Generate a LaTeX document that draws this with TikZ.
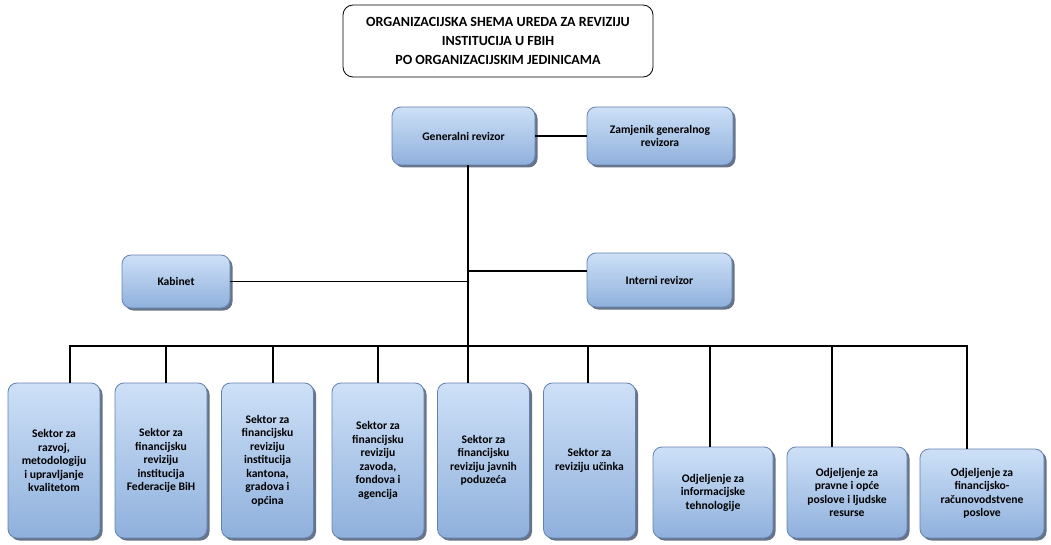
\documentclass[tikz,border=0pt]{standalone}
\usepackage{fontspec}
\setmainfont{Carlito}
\usetikzlibrary{shadows}
\definecolor{boxtop}{RGB}{205,224,247}
\definecolor{boxbot}{RGB}{143,176,220}
\definecolor{boxline}{RGB}{100,130,175}
\definecolor{shadowc}{RGB}{65,80,105}
\tikzset{
  orgbox/.style={draw=boxline, line width=0.8pt, rounded corners=9pt,
    top color=boxtop, bottom color=boxbot, align=center, inner sep=1pt,
    font=\fontsize{11.6}{13.5}\selectfont\bfseries,
    drop shadow={shadow xshift=2.5pt, shadow yshift=-2.5pt, fill=shadowc, opacity=0.8}},
  titlebox/.style={draw=black, line width=0.8pt, rounded corners=10pt, fill=white,
    align=center, font=\fontsize{14}{19}\selectfont\bfseries},
  link/.style={draw=black, line width=1.6pt}
}
\begin{document}
\begin{tikzpicture}[x=1pt,y=-1pt]
\useasboundingbox (0,0) rectangle (1051,545);
\node[titlebox, minimum width=310pt, minimum height=72pt] (title) at (498,41)
  {ORGANIZACIJSKA SHEMA UREDA ZA REVIZIJU\\INSTITUCIJA U FBIH\\PO ORGANIZACIJSKIM JEDINICAMA};
\node[orgbox, minimum width=143pt, minimum height=58pt] (gen) at (463.5,136) {Generalni revizor};
\node[orgbox, minimum width=146pt, minimum height=58pt] (zam) at (660,136) {Zamjenik generalnog\\revizora};
\node[orgbox, minimum width=108pt, minimum height=53pt] (kab) at (176,281.5) {Kabinet};
\node[orgbox, minimum width=145pt, minimum height=54pt] (int) at (659.5,280) {Interni revizor};
\tikzset{tall/.style={orgbox, minimum width=92pt, minimum height=155pt}}
\node[tall] (b1) at (54,460.5) {Sektor za\\razvoj,\\metodologiju\\i upravljanje\\kvalitetom};
\node[tall] (b2) at (161,460.5) {Sektor za\\financijsku\\reviziju\\institucija\\Federacije BiH};
\node[tall] (b3) at (267.5,460.5) {Sektor za\\financijsku\\reviziju\\institucija\\kantona,\\gradova i\\općina};
\node[tall] (b4) at (378,460.5) {Sektor za\\financijsku\\reviziju\\zavoda,\\fondova i\\agencija};
\node[tall] (b5) at (483.5,460.5) {Sektor za\\financijsku\\reviziju javnih\\poduzeća};
\node[tall] (b6) at (589.5,460.5) {Sektor za\\reviziju učinka};
\tikzset{wide/.style={orgbox, minimum width=120pt, minimum height=91pt}}
\node[wide] (b7) at (713,492.5) {Odjeljenje za\\informacijske\\tehnologije};
\node[wide] (b8) at (847,492.5) {Odjeljenje za\\pravne i opće\\poslove i ljudske\\resurse};
\node[wide, minimum width=124pt, minimum height=89pt] (b9) at (982,493.5) {Odjeljenje za\\financijsko-\\računovodstvene\\poslove};
% connectors
\coordinate (t) at (468,0);
\coordinate (bus) at (0,346);
\coordinate (intl) at (0,271);
\draw[link] (gen.east) -- (zam.west);
\draw[link] (t |- gen.south) -- (t |- b5.north);
\draw[link] (kab.east) -- (t |- kab.east);
\draw[link] (t |- intl) -- (int.west |- intl);
\coordinate (d1) at (70,0);
\coordinate (d2) at (166,0);
\coordinate (d3) at (273,0);
\coordinate (d4) at (378,0);
\coordinate (d6) at (588,0);
\coordinate (d7) at (710,0);
\coordinate (d8) at (832,0);
\coordinate (d9) at (967,0);
\draw[link] (d1 |- b1.north) -- (d1 |- bus) -- (d9 |- bus) -- (d9 |- b9.north);
\draw[link] (d2 |- bus) -- (d2 |- b2.north);
\draw[link] (d3 |- bus) -- (d3 |- b3.north);
\draw[link] (d4 |- bus) -- (d4 |- b4.north);
\draw[link] (d6 |- bus) -- (d6 |- b6.north);
\draw[link] (d7 |- bus) -- (d7 |- b7.north);
\draw[link] (d8 |- bus) -- (d8 |- b8.north);
\end{tikzpicture}
\end{document}
